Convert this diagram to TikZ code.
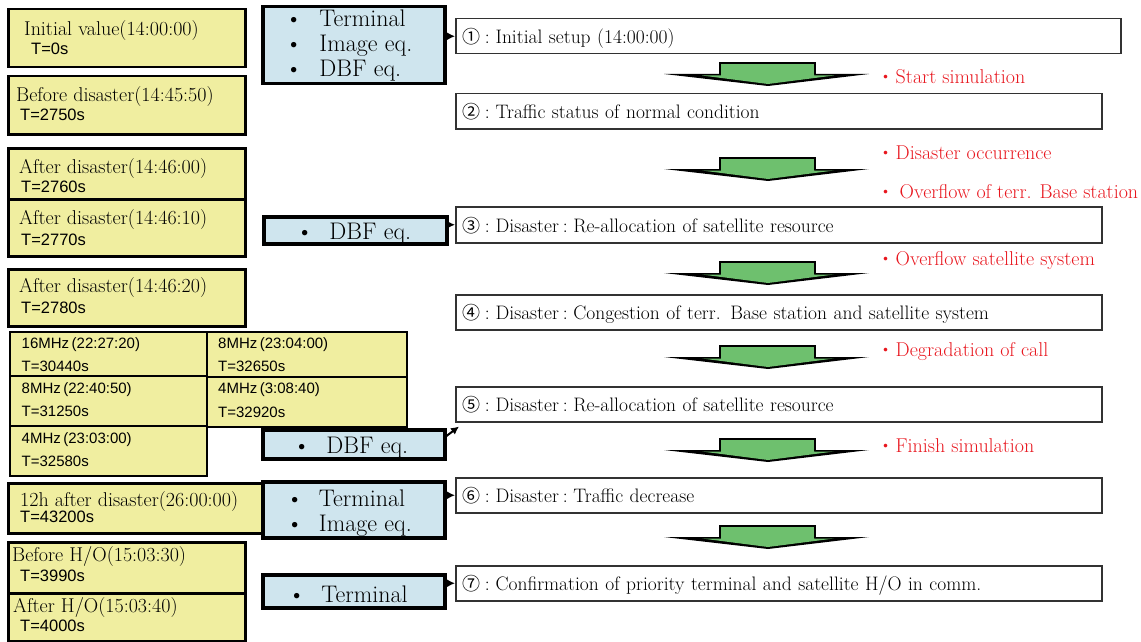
\documentclass[tikz,border=0pt]{standalone}
\usepackage{fontspec}
\usetikzlibrary{arrows.meta}
\newfontfamily\sansf{Liberation Sans}
\newfontfamily\cjkf{Noto Sans CJK JP}
\definecolor{yfill}{RGB}{240,238,160}
\definecolor{bfill}{RGB}{207,229,238}
\definecolor{agreen}{RGB}{110,192,110}
\definecolor{boxgray}{RGB}{50,50,50}
\definecolor{notered}{RGB}{232,22,30}
\newcommand{\circno}[1]{{\cjkf\fontsize{18}{20}\selectfont #1}\hspace{4pt}:\hspace{6pt}}
\newcommand{\colsep}{\hspace{4pt}:\hspace{5.5pt}}
\newcommand{\reddot}{{\cjkf\fontsize{17}{22}\selectfont ・}\hspace{1.5pt}}
\tikzset{
  ybox/.style={draw=black, line width=2.5pt, fill=yfill, inner sep=0pt, anchor=north west},
  gcell/.style={ybox, line width=2pt},
  bbox/.style={draw=black, line width=3.5pt, fill=bfill, inner sep=0pt, anchor=north west},
  stepbox/.style={draw=boxgray, line width=1.5pt, fill=white, anchor=north west, inner xsep=7pt, inner ysep=0pt, text width=632pt, align=left, minimum height=35pt, text height=16pt, text depth=1pt, font=\fontsize{19.5}{21}\selectfont},
  ylabel/.style={anchor=base west, inner sep=0pt, font=\fontsize{20}{22}\selectfont},
  tlabel/.style={anchor=base west, inner sep=0pt, font=\sansf\fontsize{16.5}{18}\selectfont},
  clabel/.style={anchor=base west, inner sep=0pt, font=\sansf\fontsize{15}{17}\selectfont},
  blabel/.style={anchor=base west, inner sep=0pt, font=\fontsize{24}{26}\selectfont},
  rlabel/.style={anchor=base west, inner sep=0pt, text=notered, font=\fontsize{20}{22}\selectfont},
  conn/.style={-{Latex[length=8pt,width=8pt]}, line width=2pt},
}
\begin{document}
\begin{tikzpicture}[x=1pt,y=-1pt]
\useasboundingbox (0,0) rectangle (1141,642);

% time boxes, left column
\node[ybox, minimum width=237pt, minimum height=58pt] (init) at (7,8) {};
\node[ybox, minimum width=237pt, minimum height=58pt] (before) at (7,75) {};
\node[ybox, minimum width=237pt, minimum height=51pt] (afterA) at (7,147) {};
\node[ybox, minimum width=237pt, minimum height=57pt] (afterB) at (7,198) {};
\node[ybox, minimum width=237pt, minimum height=57pt] (afterC) at (7,268) {};
\node[gcell, minimum width=197pt, minimum height=44pt] (cellA) at (9,331) {};
\node[gcell, minimum width=200pt, minimum height=45pt] (cellB) at (206,331) {};
\node[gcell, minimum width=197pt, minimum height=50pt] (cellC) at (9,375) {};
\node[gcell, minimum width=200pt, minimum height=50pt] (cellD) at (206,376) {};
\node[gcell, minimum width=197pt, minimum height=50pt] (cellE) at (9,425) {};
\node[ybox, minimum width=255pt, minimum height=50pt] (twelve) at (7,482) {};
\node[ybox, minimum width=237pt, minimum height=51pt] (beforeho) at (7,541) {};
\node[ybox, minimum width=237pt, minimum height=48pt] (afterho) at (7,592) {};

\node[ylabel] (initname) at (24,36) {Initial value(14:00:00)};
\node[tlabel] (inittime) at (31,55) {T=0s};
\node[ylabel] (beforename) at (16,102) {Before disaster(14:45:50)};
\node[tlabel] (beforetime) at (20,121) {T=2750s};
\node[ylabel] (afterAname) at (19,173) {After disaster(14:46:00)};
\node[tlabel] (afterAtime) at (21,192) {T=2760s};
\node[ylabel] (afterBname) at (19,224) {After disaster(14:46:10)};
\node[tlabel] (afterBtime) at (21,245) {T=2770s};
\node[ylabel] (afterCname) at (19,292) {After disaster(14:46:20)};
\node[tlabel] (afterCtime) at (21,313) {T=2780s};
\node[clabel] (cellAname) at (21.5,348) {16MHz\,(22:27:20)};
\node[clabel] (cellAtime) at (21.5,371) {T=30440s};
\node[clabel] (cellBname) at (218,348) {8MHz\,(23:04:00)};
\node[clabel] (cellBtime) at (218,371) {T=32650s};
\node[clabel] (cellCname) at (21.5,393) {8MHz\,(22:40:50)};
\node[clabel] (cellCtime) at (21.5,416) {T=31250s};
\node[clabel] (cellDname) at (218,393) {4MHz\,(3:08:40)};
\node[clabel] (cellDtime) at (218,417) {T=32920s};
\node[clabel] (cellEname) at (21.5,443) {4MHz\,(23:03:00)};
\node[clabel] (cellEtime) at (21.5,466) {T=32580s};
\node[ylabel] (twelvename) at (20,506) {12h after disaster(26:00:00)};
\node[tlabel] (twelvetime) at (20,522) {T=43200s};
\node[ylabel] (beforehoname) at (12,561) {Before H/O(15:03:30)};
\node[tlabel] (beforehotime) at (20,581) {T=3990s};
\node[ylabel] (afterhoname) at (13,612) {After H/O(15:03:40)};
\node[tlabel] (afterhotime) at (20,631) {T=4000s};

% equipment boxes
\node[bbox, minimum width=182pt, minimum height=77pt] (eqA) at (261,5) {};
\node[bbox, minimum width=183pt, minimum height=27pt] (eqB) at (262,215) {};
\node[bbox, minimum width=182pt, minimum height=29pt] (eqC) at (261,428) {};
\node[bbox, minimum width=182pt, minimum height=56pt] (eqD) at (261,480) {};
\node[bbox, minimum width=182pt, minimum height=33pt] (eqE) at (261,573) {};

\node[blabel] (eqAterm) at (285,27) {\textbullet\hspace{17pt}Terminal};
\node[blabel] (eqAimg) at (285,52) {\textbullet\hspace{17pt}Image eq.};
\node[blabel] (eqAdbf) at (285,77) {\textbullet\hspace{17pt}DBF eq.};
\node[blabel] (eqBdbf) at (296,239) {\textbullet\hspace{16pt}DBF eq.};
\node[blabel] (eqCdbf) at (293,453) {\textbullet\hspace{16pt}DBF eq.};
\node[blabel] (eqDterm) at (286,506) {\textbullet\hspace{15.5pt}Terminal};
\node[blabel] (eqDimg) at (286,531) {\textbullet\hspace{15.5pt}Image eq.};
\node[blabel] (eqEterm) at (288,602) {\textbullet\hspace{16pt}Terminal};

% simulation steps
\node[stepbox, text width=651pt] (s1) at (455,18) {\circno{①}Initial setup (14:00:00)};
\node[stepbox] (s2) at (455,93) {\circno{②}Traffic status of normal condition};
\node[stepbox, minimum height=36pt] (s3) at (455,206) {\circno{③}Disaster\colsep Re-allocation of satellite resource};
\node[stepbox] (s4) at (455,294) {\circno{④}Disaster\colsep Congestion of terr. Base station and satellite system};
\node[stepbox] (s5) at (455,386) {\circno{⑤}Disaster\colsep Re-allocation of satellite resource};
\node[stepbox] (s6) at (455,477) {\circno{⑥}Disaster\colsep Traffic decrease};
\node[stepbox] (s7) at (455,565) {\circno{⑦}Confirmation of priority terminal and satellite H/O in comm.};

% green block arrows
\foreach \y in {63,158,262,346,439,526}{
  \fill (664,\y+11) -- (869,\y+11) -- (768,\y+23) -- cycle;
  \fill[agreen] (721,\y+1) -- (814,\y+1) -- (814,\y+12.5) -- (834,\y+12.5) -- (768,\y+21) -- (702,\y+12.5) -- (721,\y+12.5) -- cycle;
  \draw[line width=1.8pt] (720,\y+11.5) -- (720,\y) -- (815,\y) -- (815,\y+11.5);
}

\node[rlabel] (startnote) at (877,84) {\reddot Start simulation};
\node[rlabel] (disnote) at (877,159) {\reddot Disaster occurrence};
\node[rlabel] (terrnote) at (877,198) {\reddot\hspace{4pt}Overflow of terr. Base station};
\node[rlabel] (satnote) at (877,265) {\reddot Overflow satellite system};
\node[rlabel] (callnote) at (877,356) {\reddot Degradation of call};
\node[rlabel] (finnote) at (877,452) {\reddot Finish simulation};

% connectors
\draw[conn] (s1.west -| eqA.east) -- (s1.west);
\draw[conn] (s3.west -| eqB.east) -- (s3.west);
\draw[conn] ([yshift=-8pt]eqC.north east) -- ([xshift=4pt,yshift=-4pt]s5.south west);
\draw[conn] (s6.west -| eqD.east) -- (s6.west);
\draw[conn] (s7.west -| eqE.east) -- (s7.west);

\end{tikzpicture}
\end{document}
